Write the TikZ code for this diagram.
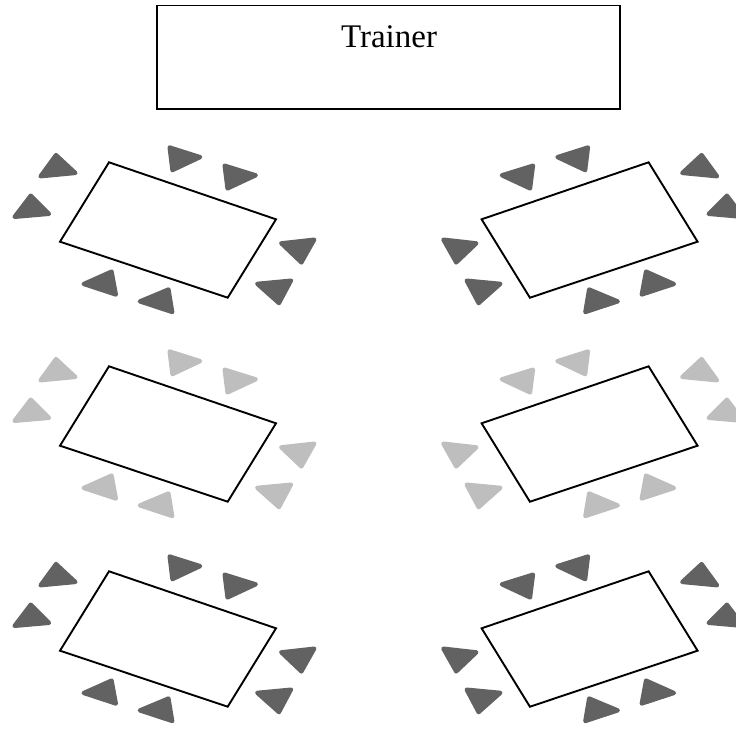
\documentclass[tikz,border=0pt]{standalone}
\usepackage{fontspec}
\setmainfont{Liberation Serif}
\definecolor{seatdark}{HTML}{626262}
\definecolor{seatlight}{HTML}{BEBEBE}
\tikzset{
  tablebox/.style={draw=black, line width=1.9pt, line join=miter, fill=white},
  trainerbox/.style={draw=black, line width=1.9pt},
  seat/.style={fill=#1, draw=#1, line width=4.2pt, line join=round},
}
% one table with its eight chairs, seat colour as argument
\newcommand{\tablegroup}[1]{%
  \draw[tablebox] (109,162.3) -- (276,219.3) -- (227.7,297.7) -- (60,241.7) -- cycle;
  \draw[seat=#1] (56,155) -- (40.5,176.3) -- (75.4,173) -- cycle;
  \draw[seat=#1] (30.7,195.6) -- (14.5,216.9) -- (49,213.9) -- cycle;
  \draw[seat=#1] (169.6,147.4) -- (200.2,157.1) -- (172.4,170.2) -- cycle;
  \draw[seat=#1] (224.6,165.6) -- (255.8,175.3) -- (227.5,188.5) -- cycle;
  \draw[seat=#1] (281.2,243.3) -- (314.3,239.6) -- (301.4,262.5) -- cycle;
  \draw[seat=#1] (257.2,283.8) -- (291,280.6) -- (279,303.2) -- cycle;
  \draw[seat=#1] (83.6,284) -- (111.6,271.5) -- (115.9,294.6) -- cycle;
  \draw[seat=#1] (139.8,301.4) -- (168.5,289.4) -- (172.3,312.1) -- cycle;
}
\begin{document}
\begin{tikzpicture}[x=1pt, y=-1pt]
  \useasboundingbox (0,0) rectangle (736,731);
  % trainer's desk
  \draw[trainerbox] (157,5.5) rectangle (620,109);
  \node[anchor=base, inner sep=0pt, font=\fontsize{33}{40}\selectfont] (trainer) at (389,47.7) {Trainer};
  % left column of tables
  \begin{scope}\tablegroup{seatdark}\end{scope}
  \begin{scope}[yshift=-204pt]\tablegroup{seatlight}\end{scope}
  \begin{scope}[yshift=-409pt]\tablegroup{seatdark}\end{scope}
  % right column: mirror image
  \begin{scope}[xshift=757.6pt, xscale=-1]\tablegroup{seatdark}\end{scope}
  \begin{scope}[xshift=757.6pt, yshift=-204pt, xscale=-1]\tablegroup{seatlight}\end{scope}
  \begin{scope}[xshift=757.6pt, yshift=-409pt, xscale=-1]\tablegroup{seatdark}\end{scope}
\end{tikzpicture}
\end{document}
